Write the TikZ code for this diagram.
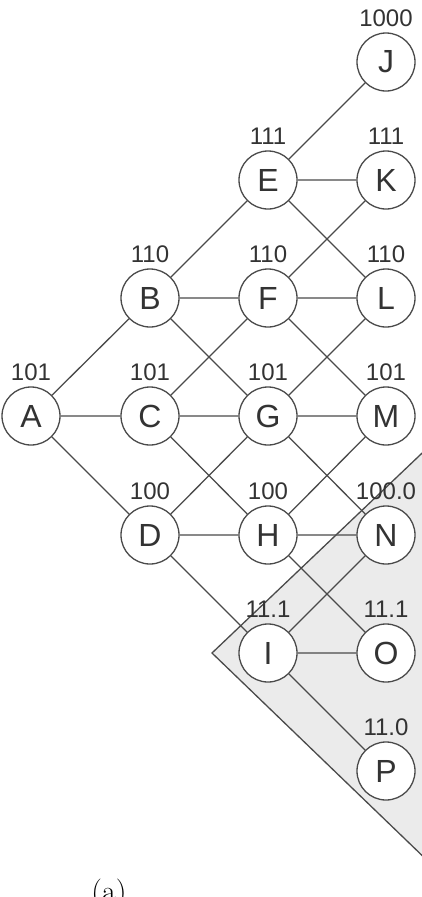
\documentclass[tikz,border=0pt]{standalone}
\usepackage{fontspec}
\setsansfont{Liberation Sans}
\definecolor{txt}{HTML}{333333}
\definecolor{ln}{HTML}{4A4A4A}
\definecolor{shade}{HTML}{EBEBEB}
\begin{document}
\begin{tikzpicture}[x=1pt,y=-1pt,
  st/.style={circle,draw=ln,line width=1.3pt,fill=white,minimum size=58pt,inner sep=0pt,
    text=txt,font=\sffamily\fontsize{32}{38}\selectfont},
  lab/.style={text=txt,font=\sffamily\fontsize{24}{28}\selectfont,inner sep=0pt,anchor=center},
  edge/.style={draw=ln,line width=1.3pt}]
\clip (0,0) rectangle (422,897);
\useasboundingbox (0,0) rectangle (422,897);
% shaded region
\coordinate (t0) at (212,653);
\coordinate (t1) at (460,417);
\coordinate (t2) at (460,892);
\filldraw[fill=shade,draw=ln,line width=1.3pt] (t0) -- (t1) -- (t2) -- cycle;
% nodes
\node[st,label={[lab,name=lA,label distance=14.5pt]90:101}] (A) at (31,416) {A};
\node[st,label={[lab,name=lB,label distance=14.5pt]90:110}] (B) at (150,298) {B};
\node[st,label={[lab,name=lC,label distance=14.5pt]90:101}] (C) at (150,416) {C};
\node[st,label={[lab,name=lD,label distance=14.5pt]90:100}] (D) at (150,535) {D};
\node[st,label={[lab,name=lE,label distance=14.5pt]90:111}] (E) at (268,180) {E};
\node[st,label={[lab,name=lF,label distance=14.5pt]90:110}] (F) at (268,298) {F};
\node[st,label={[lab,name=lG,label distance=14.5pt]90:101}] (G) at (268,416) {G};
\node[st,label={[lab,name=lH,label distance=14.5pt]90:100}] (H) at (268,535) {H};
\node[st,label={[lab,name=lI,label distance=14.5pt]90:11.1}] (I) at (268,653) {I};
\node[st,label={[lab,name=lJ,label distance=14.5pt]90:1000}] (J) at (386,62) {J};
\node[st,label={[lab,name=lK,label distance=14.5pt]90:111}] (K) at (386,180) {K};
\node[st,label={[lab,name=lL,label distance=14.5pt]90:110}] (L) at (386,298) {L};
\node[st,label={[lab,name=lM,label distance=14.5pt]90:101}] (M) at (386,416) {M};
\node[st,label={[lab,name=lN,label distance=14.5pt]90:100.0}] (N) at (386,535) {N};
\node[st,label={[lab,name=lO,label distance=14.5pt]90:11.1}] (O) at (386,653) {O};
\node[st,label={[lab,name=lP,label distance=14.5pt]90:11.0}] (P) at (386,771) {P};
% edges
\begin{scope}[on background layer/.try]
\end{scope}
\path[edge] (A) -- (B) (A) -- (C) (A) -- (D)
  (B) -- (E) (B) -- (F) (B) -- (G)
  (C) -- (F) (C) -- (G) (C) -- (H)
  (D) -- (G) (D) -- (H) (D) -- (I)
  (E) -- (J) (E) -- (K) (E) -- (L)
  (F) -- (K) (F) -- (L) (F) -- (M)
  (G) -- (L) (G) -- (M) (G) -- (N)
  (H) -- (M) (H) -- (N) (H) -- (O)
  (I) -- (N) (I) -- (O) (I) -- (P);
% caption
\node[font=\fontsize{30}{36}\selectfont,anchor=base,inner sep=0pt] (cap) at (109,901) {(a)};
\end{tikzpicture}
\end{document}
